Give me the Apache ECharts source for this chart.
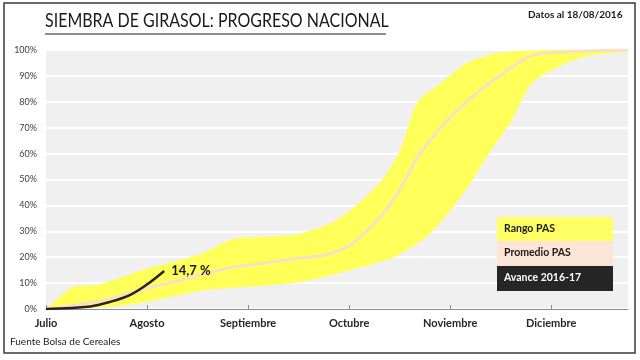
<!DOCTYPE html>
<html>
<head>
<meta charset="utf-8">
<script src="https://cdn.jsdelivr.net/npm/echarts@6/dist/echarts.min.js"></script>
<style>html,body{margin:0;padding:0;background:#fff}#c{width:640px;height:360px}</style>
</head>
<body>
<div id="c"></div>
<script>
// x in months after 1 July (0 = Julio, 1 = Agosto, ...)
const monthLabels = ['Julio', 'Agosto', 'Septiembre', 'Octubre', 'Noviembre', 'Diciembre'];
const rangoMax = [[0,0],[0.27,8.5],[0.53,9.5],[1.0,15.5],[1.52,21],[1.85,27],[2.22,28],[2.51,29],[2.81,33],[3.01,38],[3.31,49],[3.5,61],[3.68,80],[3.9,87],[4.17,95],[4.5,99],[5.0,100],[5.76,100]];
const rangoMin = [[0,0],[0.53,0.5],[0.93,2.3],[1.59,7.3],[2.25,9.3],[2.52,10.4],[3.01,15],[3.44,20],[3.77,28],[4.0,38],[4.2,48.6],[4.4,61],[4.6,72],[4.82,87.6],[5.29,97],[5.76,99.5]];
const promedio = [[0,0],[0.53,3],[1.0,8],[1.26,10.4],[1.82,16],[2.02,17],[2.52,19.7],[2.78,21],[3.01,24.7],[3.31,35.5],[3.5,46],[3.7,60],[4.0,74],[4.3,84.5],[4.56,92],[4.82,98],[5.29,99.5],[5.76,100]];
const avance = [[0,0],[0.44,1],[0.63,2.7],[0.83,5.4],[1.0,9.5],[1.17,14.7]];
const avanceLabel = '14,7 %';
const legendItems = ['Rango PAS', 'Promedio PAS', 'Avance 2016-17'];

const chart = echarts.init(document.getElementById('c'), null, {renderer: 'canvas'});
const F = 'Lato, "Open Sans", sans-serif';

chart.setOption({
  backgroundColor: '#fff',
  animation: false,
  grid: {left: 46, right: 12, top: 50, bottom: 51, show: true, backgroundColor: '#f0f0f0', borderWidth: 0},
  xAxis: {
    type: 'value', min: 0, max: 5.76, interval: 1,
    axisLine: {show: true, lineStyle: {color: '#8c8c8c', width: 1}},
    axisTick: {show: true, inside: true, length: 4, lineStyle: {color: '#8c8c8c'}},
    splitLine: {show: false},
    axisLabel: {
      showMaxLabel: false, margin: 9,
      formatter: v => monthLabels[Math.round(v)] || '',
      fontFamily: F, fontWeight: 'bold', fontSize: 11, color: '#262626'
    }
  },
  yAxis: {
    type: 'value', min: 0, max: 100, interval: 10,
    axisLine: {show: false}, axisTick: {show: false},
    splitLine: {show: true, lineStyle: {color: '#ffffff', width: 2}},
    axisLabel: {formatter: v => v + '%', margin: 9, fontFamily: F, fontSize: 9, color: '#404040'}
  },
  series: [
    {
      type: 'custom', silent: true, z: 1,
      data: [[0, 0]],
      renderItem: (params, api) => {
        const pts = rangoMax.map(p => api.coord(p)).concat(rangoMin.slice().reverse().map(p => api.coord(p)));
        return {type: 'polygon', shape: {points: pts, smooth: 0.25}, style: {fill: '#ffff5a'}};
      }
    },
    {
      type: 'line', data: promedio, smooth: 0.3, symbol: 'none', z: 2,
      lineStyle: {color: '#f9dfc4', width: 3}
    },
    {
      type: 'line', data: avance, smooth: 0.35, symbol: 'none', z: 3,
      lineStyle: {color: '#2b2222', width: 2.5},
      endLabel: {show: true, formatter: avanceLabel, distance: 7,
                 fontFamily: F, fontWeight: 'bold', fontSize: 13, color: '#1a1a1a'}
    }
  ],
  graphic: [
    {type: 'rect', z: 100, shape: {x: 4, y: 3, width: 631, height: 350}, style: {fill: 'none', stroke: '#3a3a3a', lineWidth: 1.5}},
    {type: 'text', z: 100, x: 45, y: 11, scaleX: 0.8, style: {text: 'SIEMBRA DE GIRASOL: PROGRESO NACIONAL', fontFamily: F, fontSize: 20, fill: '#1a1a1a'}},
    {type: 'line', z: 100, shape: {x1: 45, y1: 34, x2: 386, y2: 34}, style: {stroke: '#1a1a1a', lineWidth: 1.2}},
    {type: 'text', z: 100, x: 528, y: 10, style: {text: 'Datos al 18/08/2016', fontFamily: F, fontWeight: 'bold', fontSize: 10, fill: '#1a1a1a'}},
    {type: 'text', z: 100, x: 10, y: 337, style: {text: 'Fuente Bolsa de Cereales', fontFamily: F, fontSize: 10, fill: '#1a1a1a'}},
    {type: 'rect', z: 100, shape: {x: 497, y: 217, width: 116, height: 24}, style: {fill: '#ffff66'}},
    {type: 'rect', z: 100, shape: {x: 497, y: 241, width: 116, height: 25}, style: {fill: '#fce4d6'}},
    {type: 'rect', z: 100, shape: {x: 497, y: 266, width: 116, height: 25}, style: {fill: '#262626'}},
    {type: 'text', z: 101, x: 504, y: 223, style: {text: legendItems[0], fontFamily: F, fontWeight: 'bold', fontSize: 10.5, fill: '#1a1a1a'}},
    {type: 'text', z: 101, x: 504, y: 247, style: {text: legendItems[1], fontFamily: F, fontWeight: 'bold', fontSize: 10.5, fill: '#1a1a1a'}},
    {type: 'text', z: 101, x: 504, y: 272, style: {text: legendItems[2], fontFamily: F, fontWeight: 'bold', fontSize: 10.5, fill: '#ffffff'}}
  ]
});
</script>
</body>
</html>
